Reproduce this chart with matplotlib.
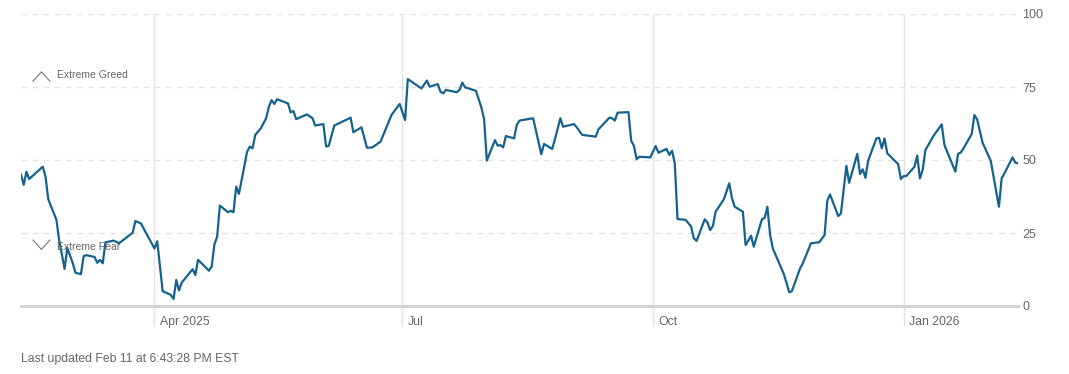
import matplotlib.pyplot as plt
import matplotlib.transforms as mtransforms
import pandas as pd

# Fear & Greed index
dates = [
    "2025-02-11", "2025-02-12", "2025-02-13", "2025-02-14", "2025-02-19", "2025-02-20",
    "2025-02-21", "2025-02-24", "2025-02-25", "2025-02-27", "2025-02-28", "2025-03-02",
    "2025-03-03", "2025-03-05", "2025-03-06", "2025-03-07", "2025-03-10", "2025-03-11",
    "2025-03-12", "2025-03-13", "2025-03-14", "2025-03-17", "2025-03-19", "2025-03-24",
    "2025-03-25", "2025-03-27", "2025-04-01", "2025-04-02", "2025-04-04", "2025-04-07",
    "2025-04-08", "2025-04-09", "2025-04-10", "2025-04-11", "2025-04-15", "2025-04-16",
    "2025-04-17", "2025-04-21", "2025-04-22", "2025-04-23", "2025-04-24", "2025-04-25",
    "2025-04-28", "2025-04-29", "2025-04-30", "2025-05-01", "2025-05-02", "2025-05-05",
    "2025-05-06", "2025-05-07", "2025-05-08", "2025-05-10", "2025-05-12", "2025-05-13",
    "2025-05-14", "2025-05-15", "2025-05-16", "2025-05-20", "2025-05-21", "2025-05-22",
    "2025-05-23", "2025-05-27", "2025-05-29", "2025-05-30", "2025-06-02", "2025-06-03",
    "2025-06-04", "2025-06-06", "2025-06-12", "2025-06-13", "2025-06-16", "2025-06-18",
    "2025-06-20", "2025-06-23", "2025-06-24", "2025-06-26", "2025-06-27", "2025-06-30",
    "2025-07-02", "2025-07-03", "2025-07-08", "2025-07-10", "2025-07-11", "2025-07-14",
    "2025-07-15", "2025-07-16", "2025-07-17", "2025-07-21", "2025-07-22", "2025-07-23",
    "2025-07-24", "2025-07-28", "2025-07-30", "2025-07-31", "2025-08-01", "2025-08-04",
    "2025-08-05", "2025-08-06", "2025-08-07", "2025-08-08", "2025-08-11", "2025-08-12",
    "2025-08-13", "2025-08-18", "2025-08-21", "2025-08-22", "2025-08-25", "2025-08-26",
    "2025-08-28", "2025-08-29", "2025-09-02", "2025-09-03", "2025-09-05", "2025-09-10",
    "2025-09-11", "2025-09-15", "2025-09-16", "2025-09-17", "2025-09-18", "2025-09-22",
    "2025-09-23", "2025-09-24", "2025-09-25", "2025-09-26", "2025-09-30", "2025-10-02",
    "2025-10-03", "2025-10-06", "2025-10-07", "2025-10-08", "2025-10-09", "2025-10-10",
    "2025-10-13", "2025-10-15", "2025-10-16", "2025-10-17", "2025-10-20", "2025-10-21",
    "2025-10-22", "2025-10-23", "2025-10-24", "2025-10-27", "2025-10-29", "2025-10-30",
    "2025-10-31", "2025-11-03", "2025-11-04", "2025-11-05", "2025-11-06", "2025-11-07",
    "2025-11-10", "2025-11-11", "2025-11-12", "2025-11-13", "2025-11-14", "2025-11-18",
    "2025-11-19", "2025-11-20", "2025-11-21", "2025-11-24", "2025-11-25", "2025-11-28",
    "2025-12-01", "2025-12-03", "2025-12-04", "2025-12-05", "2025-12-08", "2025-12-09",
    "2025-12-11", "2025-12-12", "2025-12-15", "2025-12-16", "2025-12-17", "2025-12-18",
    "2025-12-19", "2025-12-22", "2025-12-23", "2025-12-24", "2025-12-25", "2025-12-26",
    "2025-12-30", "2025-12-31", "2026-01-01", "2026-01-02", "2026-01-05", "2026-01-06",
    "2026-01-07", "2026-01-08", "2026-01-09", "2026-01-12", "2026-01-15", "2026-01-16",
    "2026-01-20", "2026-01-21", "2026-01-22", "2026-01-23", "2026-01-26", "2026-01-27",
    "2026-01-28", "2026-01-30", "2026-02-02", "2026-02-05", "2026-02-06", "2026-02-07",
    "2026-02-10", "2026-02-11", "2026-02-12",
]
values = [
    45.0, 41.5, 46.0, 43.5, 47.7, 44.3,
    36.6, 29.5, 22.6, 12.7, 19.9, 14.7,
    11.4, 10.9, 17.1, 17.4, 16.8, 14.8,
    15.8, 14.6, 21.8, 22.4, 21.5, 25.1,
    29.1, 28.3, 19.7, 22.2, 5.1, 3.8,
    2.4, 8.9, 5.3, 8.0, 12.6, 10.6,
    15.8, 12.1, 13.5, 21.1, 23.7, 34.4,
    32.1, 32.6, 32.1, 40.9, 38.4, 52.8,
    54.6, 54.0, 58.6, 60.8, 64.3, 68.3,
    70.5, 69.2, 70.8, 69.4, 66.3, 66.8,
    64.0, 65.6, 64.3, 61.8, 62.3, 54.6,
    54.9, 61.8, 64.5, 59.5, 61.2, 54.2,
    54.3, 56.3, 58.6, 63.1, 65.4, 69.2,
    63.7, 77.7, 74.5, 77.2, 75.1, 76.0,
    73.4, 72.8, 74.0, 73.2, 74.0, 76.5,
    74.9, 73.7, 68.0, 64.0, 49.8, 56.8,
    54.9, 55.1, 54.3, 58.2, 57.4, 62.0,
    63.5, 64.3, 52.0, 55.5, 53.8, 57.1,
    64.3, 61.4, 62.3, 61.2, 58.6, 58.0,
    60.5, 64.5, 64.3, 63.5, 66.2, 66.4,
    56.6, 54.9, 50.3, 51.1, 50.9, 54.8,
    52.5, 53.8, 51.7, 53.2, 48.9, 29.8,
    29.5, 27.2, 23.2, 22.3, 29.7, 28.6,
    26.0, 27.4, 32.3, 36.5, 42.0, 36.9,
    34.0, 32.3, 20.9, 22.4, 24.1, 20.3,
    29.7, 30.2, 34.0, 24.3, 19.7, 11.0,
    8.0, 4.7, 5.1, 12.9, 14.6, 21.5,
    21.8, 24.3, 36.1, 38.2, 30.8, 31.7,
    48.0, 42.2, 52.1, 45.2, 46.8, 43.9,
    49.8, 57.4, 57.6, 54.0, 57.4, 52.3,
    48.6, 43.5, 44.5, 44.5, 47.7, 51.5,
    43.7, 46.6, 53.4, 58.3, 62.2, 55.1,
    46.0, 52.1, 52.6, 54.0, 58.9, 65.4,
    63.9, 55.9, 49.7, 34.0, 43.7, 45.4,
    50.9, 49.1, 48.9,
]

tick_dates = ["2025-04-01", "2025-07-01", "2025-10-01", "2026-01-01"]
tick_labels = ["Apr 2025", "Jul", "Oct", "Jan 2026"]
y_ticks = [0, 25, 50, 75, 100]

plt.rcParams['font.family'] = ['Liberation Sans', 'DejaVu Sans']
text_color = "#666666"
line_color = "#15628e"

x = pd.to_datetime(dates)
fig = plt.figure(figsize=(10.69, 3.74), dpi=100)
ax = fig.add_axes([21 / 1069, 68 / 374, 997 / 1069, 292 / 374])

ax.plot(x, values, color=line_color, lw=1.6, solid_joinstyle='round', zorder=3)

ax.set_xlim(pd.Timestamp("2025-02-11"), pd.Timestamp("2026-02-12"))
ax.set_ylim(0, 100)

for s in ax.spines.values():
    s.set_visible(False)

# horizontal dashed grid + solid baseline
for v in y_ticks[1:]:
    ax.axhline(v, color="#e2e2e2", lw=1, dashes=(4, 4), zorder=1)
ax.axhline(0, color="#d4d4d4", lw=2.2, zorder=2, clip_on=False)

# vertical month lines, running down past the axis
ticks = pd.to_datetime(tick_dates)
ax.set_xticks(ticks)
ax.set_xticklabels([])
ax.tick_params(axis='x', length=14.5, width=1, color="#e4e4e4")
ax.grid(axis='x', color="#e4e4e4", lw=1, zorder=0)
trans = mtransforms.blended_transform_factory(ax.transData, ax.transAxes)
off = mtransforms.ScaledTranslation(4 / 72, 0, fig.dpi_scale_trans)
for t, lab in zip(ticks, tick_labels):
    ax.text(t, -0.055, lab, transform=trans + off, ha='left', va='center',
            fontsize=8.8, color=text_color)

ax.yaxis.tick_right()
ax.set_yticks(y_ticks)
ax.set_yticklabels([str(v) for v in y_ticks])
ax.tick_params(axis='y', length=0, pad=3, labelsize=9, labelcolor=text_color)
for lab in ax.get_yticklabels():
    lab.set_ha('left')

# zone labels with chevrons
tr_ax = mtransforms.blended_transform_factory(ax.transAxes, ax.transData)
ax.text(0.0365, 79, "Extreme Greed", transform=tr_ax,
        fontsize=7.5, color=text_color, va='center', ha='left')
ax.text(0.0365, 20.3, "Extreme Fear", transform=tr_ax,
        fontsize=7.5, color=text_color, va='center', ha='left')
ax.plot([0.012, 0.0205, 0.029], [77, 80.2, 77], transform=tr_ax, color="#777777", lw=0.8)
ax.plot([0.012, 0.0205, 0.029], [22.6, 19.4, 22.6], transform=tr_ax, color="#777777", lw=0.8)

fig.text(21 / 1069, 1 - 359 / 374, "Last updated Feb 11 at 6:43:28 PM EST",
         fontsize=8.8, color=text_color, ha='left', va='center')

fig.savefig("out.png", dpi=100)
